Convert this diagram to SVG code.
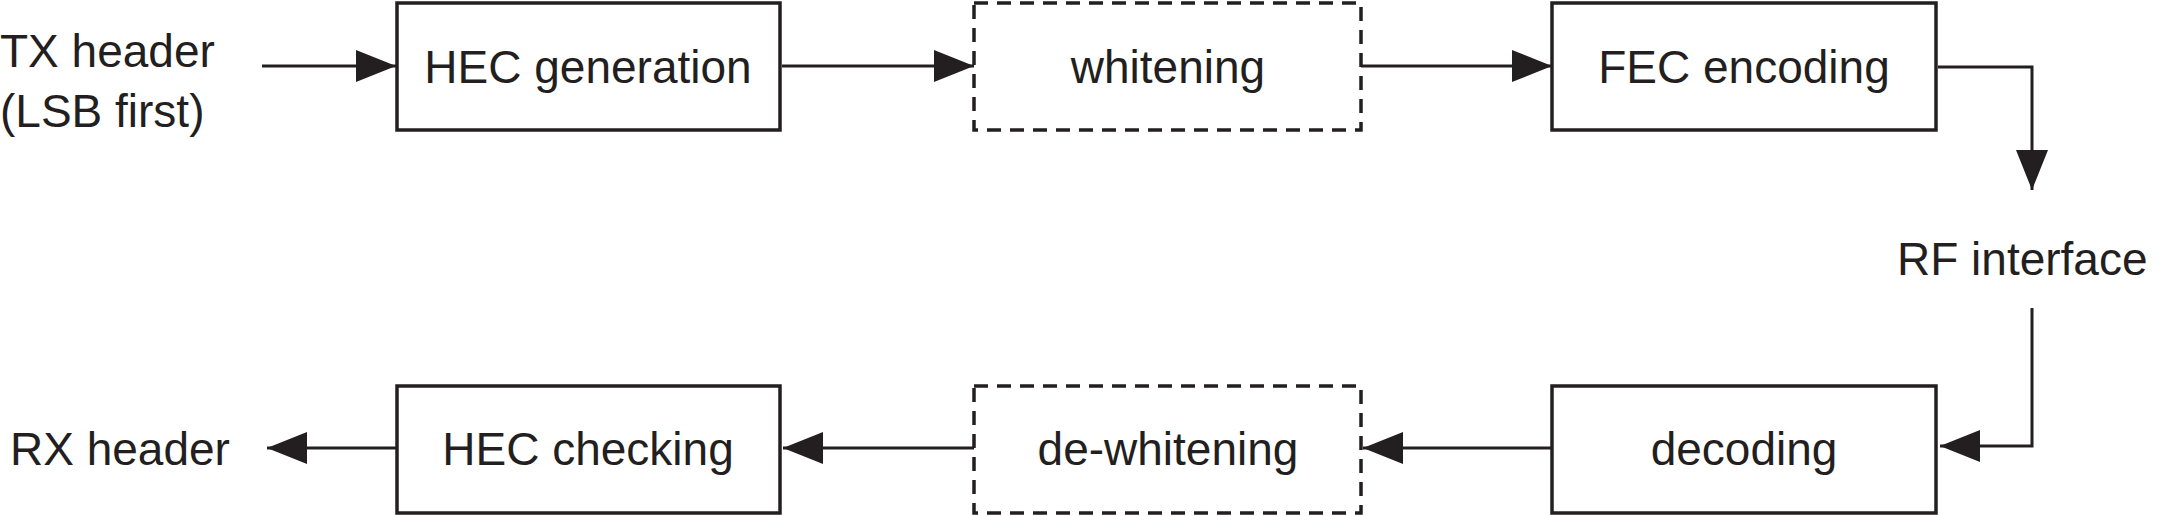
<svg xmlns="http://www.w3.org/2000/svg" width="2167" height="516" viewBox="0 0 2167 516">
<defs>
<marker id="ah" markerUnits="userSpaceOnUse" markerWidth="42" markerHeight="32" refX="40" refY="16" orient="auto"><path d="M0,0 L40,16 L0,32 Z" fill="#231f20"/></marker>
<style>
.box{fill:#fff;stroke:#231f20;stroke-width:3.5}
.dash{stroke-dasharray:14,9}
.c{fill:none;stroke:#231f20;stroke-width:3}
text{font-family:"Liberation Sans",Arial,sans-serif;font-size:46px;fill:#231f20}
.m{text-anchor:middle}
</style>
</defs>
<rect width="2167" height="516" fill="#fff"/>
<g id="connectors">
<path class="c" d="M262,66 H396" marker-end="url(#ah)"/>
<path class="c" d="M782,66 H974" marker-end="url(#ah)"/>
<path class="c" d="M1361,66 H1552" marker-end="url(#ah)"/>
<path class="c" d="M1938,67 H2032 V190" marker-end="url(#ah)"/>
<path class="c" d="M2032,308 V446 H1940" marker-end="url(#ah)"/>
<path class="c" d="M1552,448 H1363" marker-end="url(#ah)"/>
<path class="c" d="M974,448 H783" marker-end="url(#ah)"/>
<path class="c" d="M396,448 H267" marker-end="url(#ah)"/>
</g>
<g id="tx"><text x="0" y="67">TX header</text><text x="0" y="127">(LSB first)</text></g>
<g id="hecgen"><rect class="box" x="397" y="3" width="383" height="127"/><text class="m" x="588" y="83">HEC generation</text></g>
<g id="whitening"><rect class="box dash" x="974" y="3" width="387" height="127"/><text class="m" x="1168" y="83">whitening</text></g>
<g id="fec"><rect class="box" x="1552" y="3" width="384" height="127"/><text class="m" x="1744" y="83">FEC encoding</text></g>
<g id="rf"><text x="1897" y="275">RF interface</text></g>
<g id="decoding"><rect class="box" x="1552" y="386" width="384" height="127"/><text class="m" x="1744" y="465">decoding</text></g>
<g id="dewhitening"><rect class="box dash" x="974" y="386" width="387" height="127"/><text class="m" x="1168" y="465">de-whitening</text></g>
<g id="heccheck"><rect class="box" x="397" y="386" width="383" height="127"/><text class="m" x="588" y="465">HEC checking</text></g>
<g id="rx"><text x="10" y="465">RX header</text></g>
</svg>
